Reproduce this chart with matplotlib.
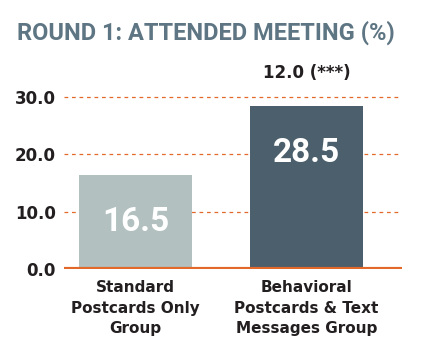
import matplotlib.pyplot as plt
import numpy as np

groups = ["Standard\nPostcards Only\nGroup", "Behavioral\nPostcards & Text\nMessages Group"]
values = [16.5, 28.5]
bar_colors = ["#b2c0bf", "#4b606c"]
yticks = [0.0, 10.0, 20.0, 30.0]
diff_label = "12.0 (***)"
title = "ROUND 1: ATTENDED MEETING (%)"

orange = "#e2692a"
dark = "#231f20"
narrow = ["Roboto", "DejaVu Sans"]

fig = plt.figure(figsize=(4.22, 3.53), dpi=100)
ax = fig.add_axes([64 / 422, 84 / 353, 338 / 422, 189 / 353])

x = np.arange(len(values))
bars = ax.bar(x, values, width=0.66, color=bar_colors, zorder=2)

# value labels near the top of each bar
for b, v in zip(bars, values):
    ax.annotate(f"{v:.1f}", (b.get_x() + b.get_width() / 2, v), xytext=(0, -34),
                textcoords="offset points", ha="center", va="center",
                color="white", fontsize=24, fontweight="bold", family=narrow)

# difference label above second bar
ax.text(x[1], 32.6, diff_label, ha="center", va="bottom", color=dark,
        fontsize=12, fontweight="bold")

ax.set_xlim(-0.42, 1.56)
ax.set_ylim(0, 33)
ax.set_yticks(yticks)
ax.set_yticklabels([f"{t:.1f}" for t in yticks], fontsize=12, fontweight="bold", color=dark)
ax.set_xticks(x)
ax.set_xticklabels(groups, fontsize=11, fontweight="bold", color=dark, linespacing=1.45)
ax.tick_params(length=0, axis="y", pad=6)
ax.tick_params(length=0, axis="x", pad=8)

for t in yticks[1:]:
    ax.axhline(t, color=orange, lw=0.9, ls=(0, (3, 3)), zorder=1)
ax.axhline(0, color=orange, lw=3, zorder=3)

for s in ax.spines.values():
    s.set_visible(False)

fig.text(17 / 422, 1 - 33 / 353, title, ha="left", va="center", color="#5e7583",
         fontsize=17, fontweight="bold", family=narrow)

fig.savefig("out.png", dpi=100)
